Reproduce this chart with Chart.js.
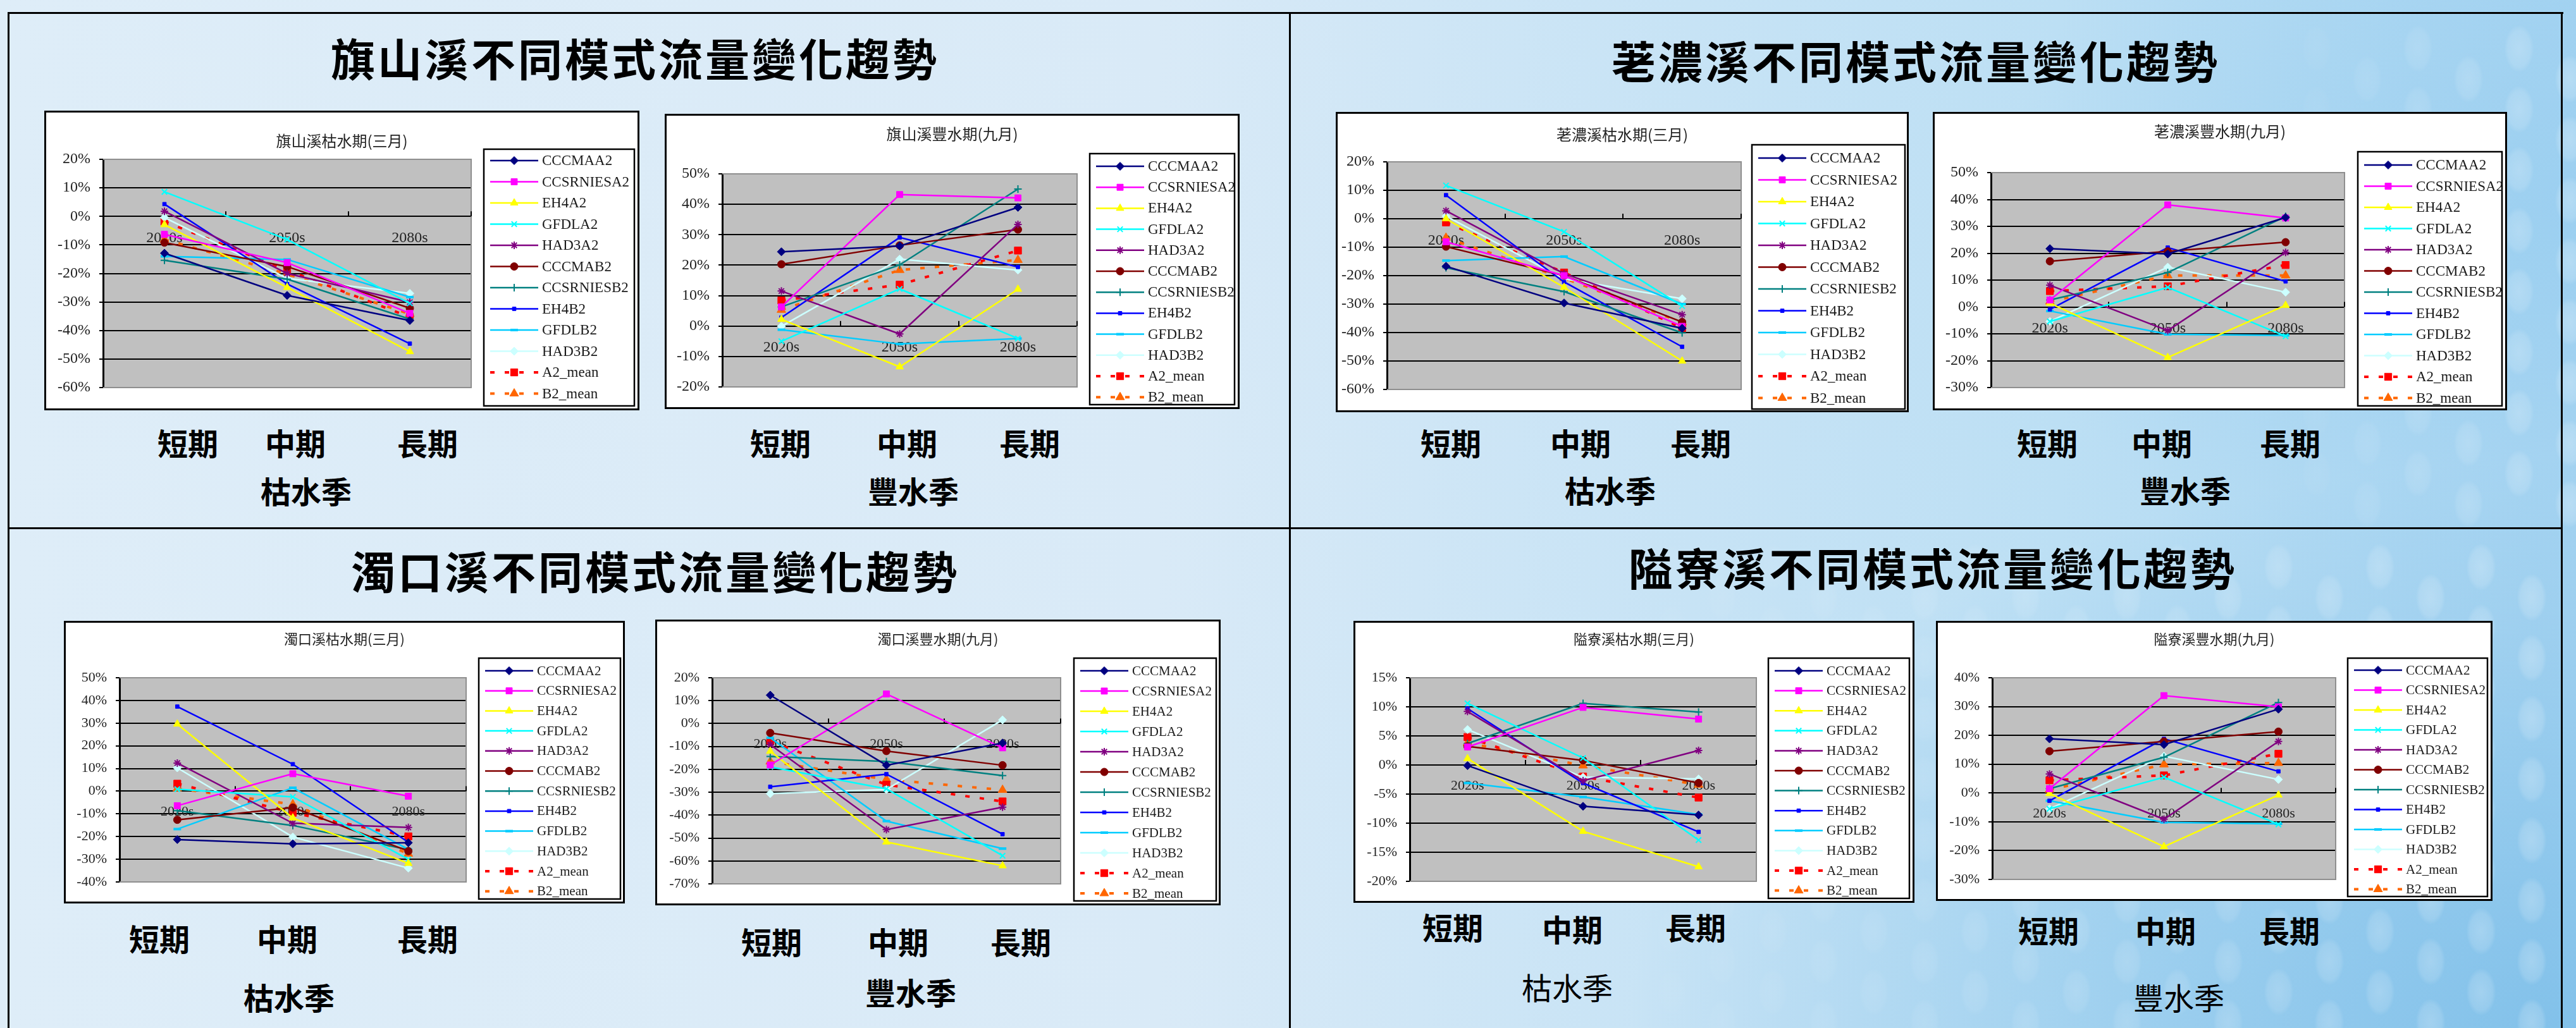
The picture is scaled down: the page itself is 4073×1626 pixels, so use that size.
<!DOCTYPE html>
<html lang="zh-Hant">
<head>
<meta charset="utf-8">
<title>不同模式流量變化趨勢</title>
<script src="https://cdn.jsdelivr.net/npm/chart.js@4.4.1/dist/chart.umd.min.js"></script>
<style>
  html, body { margin: 0; padding: 0; }
  body {
    width: 4073px; height: 1626px; position: relative; overflow: hidden;
    font-family: "Noto Sans CJK TC", sans-serif;
    background:
      radial-gradient(ellipse 1500px 900px at 100% 100%, rgba(120,188,232,0.8) 0%, rgba(120,188,232,0) 100%),
      radial-gradient(ellipse 900px 700px at 100% 20%, rgba(150,205,240,0.7) 0%, rgba(150,205,240,0) 100%),
      linear-gradient(90deg, #deedf8 0%, #d9eaf7 45%, #cfe6f6 55%, #bcdff4 80%, #a9d5f1 100%);
  }
  .rule { position: absolute; background: #000; }
  .bubble { position: absolute; border-radius: 50%; }
  .head {
    position: absolute; transform: translate(-50%, -50%);
    font-size: 70px; font-weight: 700; letter-spacing: 4px; line-height: 1;
    white-space: nowrap; color: #000;
  }
  .lab {
    position: absolute; transform: translate(-50%, -50%);
    font-size: 48px; font-weight: 700; line-height: 1; white-space: nowrap; color: #000;
  }
  .lab.thin { font-weight: 400; }
  .box { position: absolute; background: #fff; border: 3px solid #000; box-sizing: border-box; }
  .box canvas { display: block; }
</style>
</head>
<body>
<div id="bubbles"></div>

<div class="rule" style="left:12px;top:19px;width:4041px;height:3px"></div>
<div class="rule" style="left:12px;top:19px;width:3px;height:1607px"></div>
<div class="rule" style="left:2038px;top:19px;width:3px;height:1607px"></div>
<div class="rule" style="left:4049px;top:19px;width:3px;height:1607px"></div>
<div class="rule" style="left:12px;top:834px;width:4040px;height:3px"></div>

<div class="head" style="left:1004px;top:91px">旗山溪不同模式流量變化趨勢</div>
<div class="head" style="left:3029px;top:95px">荖濃溪不同模式流量變化趨勢</div>
<div class="head" style="left:1036px;top:902px">濁口溪不同模式流量變化趨勢</div>
<div class="head" style="left:3056px;top:897px">隘寮溪不同模式流量變化趨勢</div>

<div class="lab" style="left:297px;top:699px">短期</div>
<div class="lab" style="left:467px;top:699px">中期</div>
<div class="lab" style="left:676px;top:699px">長期</div>
<div class="lab" style="left:484px;top:775px">枯水季</div>
<div class="lab" style="left:1234px;top:699px">短期</div>
<div class="lab" style="left:1434px;top:699px">中期</div>
<div class="lab" style="left:1628px;top:699px">長期</div>
<div class="lab" style="left:1444px;top:775px">豐水季</div>

<div class="lab" style="left:2294px;top:699px">短期</div>
<div class="lab" style="left:2499px;top:699px">中期</div>
<div class="lab" style="left:2689px;top:699px">長期</div>
<div class="lab" style="left:2546px;top:774px">枯水季</div>
<div class="lab" style="left:3237px;top:699px">短期</div>
<div class="lab" style="left:3418px;top:699px">中期</div>
<div class="lab" style="left:3621px;top:699px">長期</div>
<div class="lab" style="left:3455px;top:774px">豐水季</div>

<div class="lab" style="left:252px;top:1483px">短期</div>
<div class="lab" style="left:454px;top:1483px">中期</div>
<div class="lab" style="left:676px;top:1483px">長期</div>
<div class="lab" style="left:457px;top:1576px">枯水季</div>
<div class="lab" style="left:1220px;top:1488px">短期</div>
<div class="lab" style="left:1420px;top:1488px">中期</div>
<div class="lab" style="left:1614px;top:1488px">長期</div>
<div class="lab" style="left:1440px;top:1568px">豐水季</div>

<div class="lab" style="left:2297px;top:1465px">短期</div>
<div class="lab" style="left:2486px;top:1468px">中期</div>
<div class="lab" style="left:2681px;top:1465px">長期</div>
<div class="lab thin" style="left:2478px;top:1560px">枯水季</div>
<div class="lab" style="left:3239px;top:1470px">短期</div>
<div class="lab" style="left:3424px;top:1470px">中期</div>
<div class="lab" style="left:3620px;top:1470px">長期</div>
<div class="lab thin" style="left:3445px;top:1576px">豐水季</div>

<script>
const periods = ['2020s', '2050s', '2080s'];
const models = ['CCCMAA2', 'CCSRNIESA2', 'EH4A2', 'GFDLA2', 'HAD3A2', 'CCCMAB2',
                'CCSRNIESB2', 'EH4B2', 'GFDLB2', 'HAD3B2', 'A2_mean', 'B2_mean'];

// flow change (%) per model, rows follow `models`, columns follow `periods`
const qishanMar = [
  [-12.9, -27.7, -36.5], [-6.3, -16.2, -34.0], [-2.9, -24.9, -47.4], [8.6, -8.1, -30.5],
  [1.8, -20.0, -30.1], [-9.2, -17.6, -32.2], [-15.4, -22.0, -36.0], [4.3, -23.7, -44.6],
  [-14.0, -15.1, -28.3], [-0.4, -21.7, -27.0], [-1.8, -18.8, -35.3], [-8.1, -20.2, -34.2]
];
const qishanSep = [
  [24.4, 26.3, 39.0], [6.3, 43.2, 42.1], [2.2, -13.4, 12.1], [-5.0, 12.2, -4.1],
  [11.5, -2.6, 33.4], [20.3, 26.5, 31.7], [6.3, 20.1, 45.0], [2.8, 29.1, 19.4],
  [-1.2, -5.9, -4.1], [-0.1, 22.0, 18.4], [8.4, 13.6, 24.8], [5.3, 18.4, 21.7]
];
const laonongMar = [
  [-16.7, -29.6, -38.5], [-8.1, -20.0, -37.8], [0.0, -24.1, -50.0], [11.7, -4.6, -30.7],
  [2.8, -19.3, -33.7], [-9.8, -20.0, -36.3], [-17.2, -25.6, -40.1], [8.3, -22.2, -45.0],
  [-14.7, -13.3, -30.0], [0.9, -21.1, -28.1], [-1.3, -18.9, -38.4], [-6.7, -20.9, -36.4]
];
const laonongSep = [
  [21.7, 19.7, 33.3], [2.6, 38.0, 33.1], [1.4, -18.8, 0.6], [-5.4, 7.3, -10.9],
  [8.1, -8.8, 20.3], [17.0, 20.7, 24.1], [2.6, 12.8, 33.7], [-0.9, 22.1, 9.5],
  [-1.5, -10.2, -10.6], [-5.4, 14.8, 5.5], [5.9, 7.7, 15.6], [2.0, 11.7, 11.7]
];
const zhuokouMar = [
  [-21.3, -23.2, -22.7], [-6.4, 7.7, -2.2], [29.6, -11.8, -31.8], [0.9, -2.5, -30.0],
  [12.4, -14.1, -16.0], [-12.6, -7.2, -26.4], [-8.6, -15.1, -25.8], [37.3, 11.9, -22.5],
  [-16.7, 1.5, -25.6], [10.3, -20.2, -33.9], [3.3, -9.5, -19.9], [1.2, -5.8, -27.6]
];
const zhuokouSep = [
  [12.4, -18.2, -8.5], [-18.1, 12.9, -10.6], [-12.1, -51.7, -62.1], [-18.9, -28.5, -57.7],
  [-9.2, -46.3, -36.5], [-4.1, -12.0, -18.2], [-14.4, -16.6, -22.7], [-27.6, -22.1, -48.3],
  [-6.2, -42.6, -54.6], [-30.6, -28.8, 1.6], [-7.8, -26.7, -34.0], [-16.6, -24.4, -29.0]
];
const ailiaoMar = [
  [-0.1, -7.1, -8.6], [3.1, 9.9, 7.9], [1.1, -11.4, -17.5], [10.6, 1.2, -12.9],
  [9.2, -2.7, 2.5], [3.2, 0.8, -3.1], [3.7, 10.6, 9.1], [9.7, -3.1, -11.5],
  [-3.1, -5.5, -8.5], [6.1, -2.1, -2.4], [4.8, -2.0, -5.6], [3.8, -0.1, -3.4]
];
const ailiaoSep = [
  [18.8, 16.8, 29.1], [1.5, 33.8, 29.9], [-0.2, -18.6, -0.7], [-5.5, 5.5, -10.9],
  [6.6, -9.1, 17.9], [14.5, 17.9, 21.3], [1.5, 12.4, 31.4], [-2.7, 18.8, 7.5],
  [-2.7, -10.2, -10.7], [-5.5, 12.8, 4.7], [4.4, 6.1, 13.6], [1.1, 9.9, 10.4]
];

// y axis [min, max, step] in percent
const qishanMarAxis = [-60, 20, 10];
const qishanSepAxis = [-20, 50, 10];
const laonongMarAxis = [-60, 20, 10];
const laonongSepAxis = [-30, 50, 10];
const zhuokouMarAxis = [-40, 50, 10];
const zhuokouSepAxis = [-70, 20, 10];
const ailiaoMarAxis = [-20, 15, 5];
const ailiaoSepAxis = [-30, 40, 10];

// Excel-style line/marker look for each model
const seriesStyle = [
  { color: '#000080', point: 'rectRot', r: 6.5 },
  { color: '#FF00FF', point: 'rect', r: 7 },
  { color: '#FFFF00', point: 'triangle', r: 7 },
  { color: '#00FFFF', point: 'crossRot', r: 6, bw: 2 },
  { color: '#800080', point: 'star', r: 6, bw: 2 },
  { color: '#800000', point: 'circle', r: 6 },
  { color: '#008080', point: 'cross', r: 6, bw: 2 },
  { color: '#0000FF', point: 'rect', r: 4 },
  { color: '#00CCFF', point: 'line', r: 6, bw: 4 },
  { color: '#CCFFFF', point: 'rectRot', r: 6.5 },
  { color: '#FF0000', point: 'rect', r: 8, dash: [7, 16] },
  { color: '#FF6600', point: 'triangle', r: 8, dash: [7, 16] }
];

// page placement: outer box, plot area, title centre y, legend frame (all in page px)
const charts = [
  { title: '旗山溪枯水期(三月)', values: qishanMar, axis: qishanMarAxis,
    box: [70, 175, 1011, 649], plot: [163, 252, 745, 613], titleY: 223,
    legend: [765, 236, 1003, 642], row0: 254, step: 33.5, fs: 23 },
  { title: '旗山溪豐水期(九月)', values: qishanSep, axis: qishanSepAxis,
    box: [1051, 180, 1960, 647], plot: [1142, 275, 1703, 612], titleY: 212,
    legend: [1723, 243, 1952, 640], row0: 263, step: 33.2, fs: 23 },
  { title: '荖濃溪枯水期(三月)', values: laonongMar, axis: laonongMarAxis,
    box: [2112, 177, 3018, 652], plot: [2193, 256, 2753, 616], titleY: 213,
    legend: [2770, 229, 3012, 647], row0: 250, step: 34.5, fs: 23 },
  { title: '荖濃溪豐水期(九月)', values: laonongSep, axis: laonongSepAxis,
    box: [3056, 177, 3964, 649], plot: [3148, 273, 3707, 613], titleY: 208,
    legend: [3728, 240, 3956, 642], row0: 261, step: 33.5, fs: 23 },
  { title: '濁口溪枯水期(三月)', values: zhuokouMar, axis: zhuokouMarAxis,
    box: [101, 982, 988, 1429], plot: [189, 1072, 737, 1395], titleY: 1011,
    legend: [757, 1041, 981, 1422], row0: 1061, step: 31.7, fs: 21 },
  { title: '濁口溪豐水期(九月)', values: zhuokouSep, axis: zhuokouSepAxis,
    box: [1036, 980, 1930, 1432], plot: [1126, 1072, 1677, 1398], titleY: 1011,
    legend: [1698, 1041, 1923, 1425], row0: 1061, step: 32, fs: 21 },
  { title: '隘寮溪枯水期(三月)', values: ailiaoMar, axis: ailiaoMarAxis,
    box: [2140, 982, 3027, 1428], plot: [2229, 1072, 2777, 1394], titleY: 1011,
    legend: [2796, 1041, 3019, 1421], row0: 1061, step: 31.6, fs: 21 },
  { title: '隘寮溪豐水期(九月)', values: ailiaoSep, axis: ailiaoSepAxis,
    box: [3061, 982, 3941, 1425], plot: [3150, 1072, 3693, 1391], titleY: 1011,
    legend: [3712, 1041, 3933, 1418], row0: 1060, step: 31.5, fs: 21 }
];

const SERIF = '"Liberation Serif", "Times New Roman", serif';
const CJK = '"Noto Sans CJK TC", sans-serif';

// soft light spots on the bluer right half of the slide
(function () {
  const host = document.getElementById('bubbles');
  const add = (x, y, a) => {
    const b = document.createElement('div');
    b.className = 'bubble';
    Object.assign(b.style, {
      left: x + 'px', top: y + 'px', width: '46px', height: '74px',
      background: `radial-gradient(ellipse at 50% 50%, rgba(255,255,255,${a}) 0%, rgba(255,255,255,${a * 0.6}) 55%, rgba(255,255,255,0) 72%)`
    });
    host.appendChild(b);
  };
  for (let c = 0; c < 6; c++) for (let r = 0; r < 8; r++) add(3640 + c * 80, 40 + r * 96 + (c % 2) * 48, 0.05 + c * 0.04);
  for (let c = 0; c < 18; c++) for (let r = 0; r < 8; r++) add(2620 + c * 80, 860 + r * 96 + (c % 2) * 48, 0.04 + c * 0.012);
})();

// grey plot area, its frame, and the small category ticks on the zero line
const plotFrame = {
  id: 'plotFrame',
  beforeDraw(chart) {
    const { ctx, chartArea: a } = chart;
    ctx.save();
    ctx.fillStyle = '#c0c0c0';
    ctx.fillRect(a.left, a.top, a.right - a.left, a.bottom - a.top);
    ctx.restore();
  },
  beforeDatasetsDraw(chart) {
    const { ctx, chartArea: a, scales: { x, y } } = chart;
    ctx.save();
    ctx.strokeStyle = '#8f8f8f';
    ctx.lineWidth = 2;
    ctx.beginPath();
    ctx.moveTo(a.left, a.top); ctx.lineTo(a.right, a.top);
    ctx.lineTo(a.right, a.bottom); ctx.lineTo(a.left, a.bottom);
    ctx.stroke();
    const y0 = y.getPixelForValue(0);
    const half = (x.getPixelForTick(1) - x.getPixelForTick(0)) / 2;
    ctx.strokeStyle = '#000';
    ctx.beginPath();
    for (let i = 0; i < chart.data.labels.length; i++) {
      const px = Math.round(x.getPixelForTick(i) + half);
      ctx.moveTo(px, y0 - 8); ctx.lineTo(px, y0);
    }
    ctx.stroke();
    ctx.restore();
  }
};

// framed legend with line + marker samples
const modelLegend = {
  id: 'modelLegend',
  afterDraw(chart, args, o) {
    const ctx = chart.ctx;
    const [l, t, r, b] = o.rect;
    ctx.save();
    ctx.strokeStyle = '#000';
    ctx.lineWidth = 2.5;
    ctx.strokeRect(l, t, r - l, b - t);
    ctx.font = `${o.size}px ${SERIF}`;
    ctx.textBaseline = 'middle';
    chart.data.datasets.forEach((ds, i) => {
      const y = o.row0 + i * o.step;
      ctx.strokeStyle = ds.borderColor;
      ctx.lineWidth = ds.borderWidth;
      ctx.setLineDash(ds.borderDash || []);
      ctx.beginPath();
      ctx.moveTo(l + 10, y); ctx.lineTo(l + 86, y);
      ctx.stroke();
      ctx.setLineDash([]);
      ctx.fillStyle = ds.pointBackgroundColor;
      ctx.strokeStyle = ds.pointBorderColor;
      ctx.lineWidth = ds.pointBorderWidth;
      Chart.helpers.drawPoint(ctx, {
        pointStyle: ds.pointStyle, radius: ds.pointRadius, rotation: 0, borderWidth: ds.pointBorderWidth
      }, l + 48, y);
      ctx.fillStyle = '#1a1a1a';
      ctx.fillText(ds.label, l + 92, y + 1);
    });
    ctx.restore();
  }
};

charts.forEach(cfg => {
  const [L, T, R, B] = cfg.box;
  const ox = L + 3, oy = T + 3;
  const W = R - L - 6, H = B - T - 6;

  const box = document.createElement('div');
  box.className = 'box';
  Object.assign(box.style, { left: L + 'px', top: T + 'px', width: (R - L) + 'px', height: (B - T) + 'px' });
  const cv = document.createElement('canvas');
  cv.width = W; cv.height = H;
  cv.style.width = W + 'px'; cv.style.height = H + 'px';
  box.appendChild(cv);
  document.body.appendChild(box);

  const [pl, pt, pr, pb] = cfg.plot;
  const [ymin, ymax, ystep] = cfg.axis;
  const titleSize = cfg.fs + 1;
  const titleLine = titleSize * 1.2;
  const titleTop = cfg.titleY - oy - titleLine / 2;
  const titleBottom = (pt - oy) - titleTop - titleLine;

  const datasets = models.map((name, i) => {
    const s = seriesStyle[i];
    return {
      label: name,
      data: cfg.values[i],
      yAxisID: 'y',
      borderColor: s.color,
      backgroundColor: s.color,
      borderWidth: s.dash ? 4 : 2.5,
      borderDash: s.dash || [],
      borderCapStyle: 'butt',
      pointStyle: s.point,
      pointRadius: s.r,
      pointBackgroundColor: s.color,
      pointBorderColor: s.color,
      pointBorderWidth: s.bw || 1,
      tension: 0,
      fill: false
    };
  });

  new Chart(cv, {
    type: 'line',
    data: { labels: periods, datasets },
    options: {
      responsive: false,
      maintainAspectRatio: false,
      animation: false,
      devicePixelRatio: 1,
      events: [],
      layout: { padding: { left: 0, top: 0, right: 0, bottom: H - (pb - oy) } },
      plugins: {
        legend: { display: false },
        tooltip: { enabled: false },
        title: {
          display: true, text: cfg.title, color: '#222',
          font: { family: CJK, size: titleSize, weight: 'normal' },
          padding: { top: titleTop, bottom: titleBottom }
        },
        modelLegend: {
          rect: [cfg.legend[0] - ox, cfg.legend[1] - oy, cfg.legend[2] - ox, cfg.legend[3] - oy],
          row0: cfg.row0 - oy, step: cfg.step, size: cfg.fs
        }
      },
      scales: {
        x: {
          type: 'category',
          position: { y: 0 },
          offset: true,
          grid: { display: true, drawOnChartArea: false, drawTicks: false, color: 'rgba(0,0,0,0)' },
          border: { display: true, color: '#000', width: 2 },
          ticks: { color: '#222', font: { family: SERIF, size: cfg.fs + 1 }, padding: 20, maxRotation: 0, autoSkip: false }
        },
        y: {
          min: ymin, max: ymax,
          afterFit: s => { s.width = pl - ox; },
          ticks: { stepSize: ystep, callback: v => v + '%', color: '#222', font: { family: SERIF, size: cfg.fs + 1 }, padding: 14 },
          grid: {
            color: c => (c.tick && (c.tick.value === ymin || c.tick.value === ymax)) ? 'rgba(0,0,0,0)' : '#000',
            lineWidth: 2, tickColor: '#000', tickLength: 6
          },
          border: { display: true, color: '#000', width: 3 }
        },
        // empty right-hand column that holds the legend frame
        legendSpace: {
          type: 'linear',
          position: 'right',
          display: true,
          grid: { display: false },
          border: { display: false },
          ticks: { display: false },
          afterFit: s => { s.width = W - (pr - ox); }
        }
      }
    },
    plugins: [plotFrame, modelLegend]
  });
});
</script>
</body>
</html>
